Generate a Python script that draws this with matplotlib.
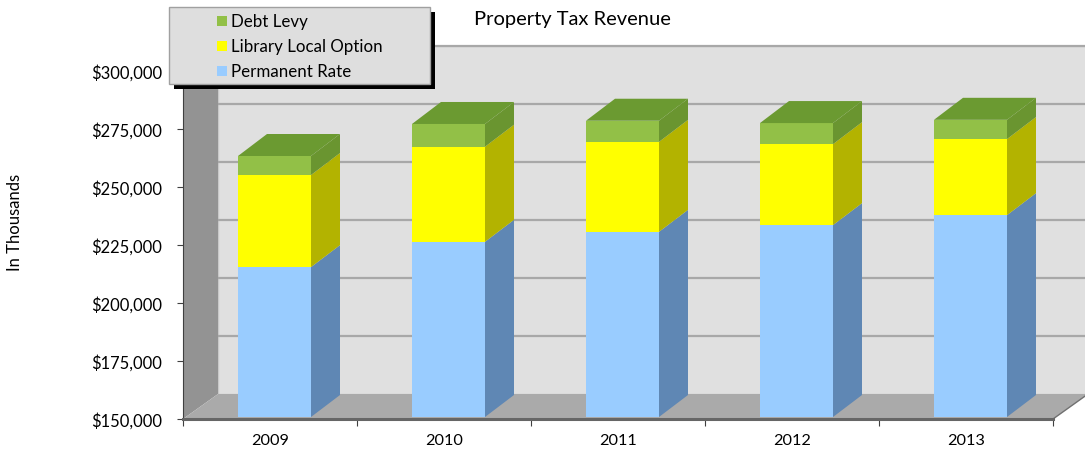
import matplotlib
matplotlib.use("Agg")
import matplotlib.pyplot as plt
from matplotlib.patches import Polygon, Rectangle
from matplotlib.ticker import FuncFormatter, FixedLocator

plt.rcParams['font.family'] = ['Lato', 'DejaVu Sans']

# ---- data ----
years = ['2009', '2010', '2011', '2012', '2013']
permanent_rate = [214600, 225500, 229800, 232700, 237000]
library_local_option = [39700, 41000, 38800, 34900, 32800]
debt_levy = [8200, 9800, 9100, 9100, 8300]
series_names = ['Permanent Rate', 'Library Local Option', 'Debt Levy']
y_ticks = [150000, 175000, 200000, 225000, 250000, 275000, 300000]
title = 'Property Tax Revenue'
y_label = 'In Thousands'

# ---- styles ----
front_cols = ['#99ccff', '#ffff00', '#92c047']
side_cols = ['#5f87b4', '#b3b300', '#6a9530']
top_cols = ['#8fb8e6', '#d9d900', '#6b9a31']

W, H = 1085, 456
fig = plt.figure(figsize=(W / 100, H / 100), dpi=100)
ax = fig.add_axes([0, 0, 1, 1])

# pixel geometry of the plot (front plane)
PX_L, PX_B = 183.0, 420.0
PX_CAT = 174.0            # pixels per category
PX_K = 2.32               # pixels per 1000
ymin = 150000


def X(px):
    return -0.5 + (px - PX_L) / PX_CAT


def Y(py):
    return ymin + (PX_B - py) / PX_K * 1000


ax.set_xlim(X(0), X(W))
ax.set_ylim(Y(H), Y(0))
ax.set_facecolor('none')

# depth offsets (data units)
FDX, FDY = 35 / PX_CAT, 25 / PX_K * 1000        # floor / wall depth
B0X, B0Y = 4.5 / PX_CAT, 2 / PX_K * 1000        # bar front offset
BDX, BDY = 29 / PX_CAT, 22 / PX_K * 1000        # bar depth
BW = 73 / PX_CAT
n = len(years)
x_lo, x_hi = -0.5, n - 0.5
y_top = y_ticks[-1]

# back wall
ax.add_patch(Polygon([(x_lo + FDX, ymin + FDY), (x_hi + FDX, ymin + FDY),
                      (x_hi + FDX, y_top + FDY), (x_lo + FDX, y_top + FDY)],
                     closed=True, facecolor='#e0e0e0', edgecolor='#c8c8c8', lw=1, zorder=1))
for t in y_ticks[1:]:
    ax.plot([x_lo + FDX, x_hi + FDX], [t + FDY, t + FDY], color='#a8a8a8', lw=1.6, zorder=2,
            solid_capstyle='butt')
# left wall
ax.add_patch(Polygon([(x_lo, ymin), (x_lo, y_top), (x_lo + FDX, y_top + FDY), (x_lo + FDX, ymin + FDY)],
                     closed=True, facecolor='#939393', edgecolor='none', zorder=2))
# floor
ax.add_patch(Polygon([(x_lo, ymin), (x_hi, ymin), (x_hi + FDX, ymin + FDY), (x_lo + FDX, ymin + FDY)],
                     closed=True, facecolor='#aaaaaa', edgecolor='none', zorder=2))
ax.plot([x_hi, x_hi + FDX], [ymin, ymin + FDY], color='#707070', lw=1, zorder=3)

# bars
stacks = [permanent_rate, library_local_option, debt_levy]
for i in range(n):
    xl = i - BW / 2 + B0X
    xr = xl + BW
    base = ymin
    for s, vals in enumerate(stacks):
        if s == 0:
            y0 = ymin + B0Y
            y1 = vals[i] + B0Y
        else:
            y0 = base
            y1 = base + vals[i]
        base = y1
        ax.add_patch(Polygon([(xr, y0), (xr, y1), (xr + BDX, y1 + BDY), (xr + BDX, y0 + BDY)],
                             closed=True, facecolor=side_cols[s], edgecolor='none', zorder=4))
        ax.add_patch(Rectangle((xl, y0), BW, y1 - y0, facecolor=front_cols[s], edgecolor='none', zorder=5))
        if s == len(stacks) - 1:
            ax.add_patch(Polygon([(xl, y1), (xr, y1), (xr + BDX, y1 + BDY), (xl + BDX, y1 + BDY)],
                                 closed=True, facecolor=top_cols[s], edgecolor='none', zorder=5))

# axes / spines
for sp in ['top', 'right']:
    ax.spines[sp].set_visible(False)
ax.spines['left'].set_position(('data', x_lo))
ax.spines['left'].set_bounds(ymin, y_top)
ax.spines['left'].set_color('#404040')
ax.spines['left'].set_linewidth(0.8)
ax.spines['left'].set_zorder(6)
ax.spines['bottom'].set_position(('data', ymin))
ax.spines['bottom'].set_bounds(x_lo, x_hi)
ax.spines['bottom'].set_color('#666666')
ax.spines['bottom'].set_linewidth(2.2)
ax.spines['bottom'].set_zorder(6)

ax.yaxis.set_major_locator(FixedLocator(y_ticks))
ax.yaxis.set_major_formatter(FuncFormatter(lambda v, p: '${:,.0f}'.format(v)))
ax.tick_params(axis='y', length=4, width=0.8, color='#404040', pad=11, labelsize=11.9, labelcolor='black')

ax.set_xticks(range(n))
ax.set_xticklabels(years)
ax.set_xticks([k - 0.5 for k in range(n + 1)], minor=True)
ax.tick_params(axis='x', which='major', length=0, pad=10, labelsize=11.7, labelcolor='black')
ax.tick_params(axis='x', which='minor', length=5, width=0.8, color='#404040')

# title and y label
fig.text(572 / W, 1 - 20 / H, title, ha='center', va='center', fontsize=14.5, color='black')
fig.text(15 / W, 1 - 222 / H, y_label, ha='center', va='center', rotation=90, fontsize=12, color='black')

# legend (manual, with black shadow)
def fr(px, py):
    return px / W, 1 - py / H

lx0, ly0, lx1, ly1 = 169, 8, 430, 85
sx, sy = fr(lx0 + 5, ly1 + 5)
fig.patches.append(Rectangle((sx, sy), (lx1 - lx0) / W, (ly1 - ly0) / H, transform=fig.transFigure,
                             facecolor='black', edgecolor='none', zorder=10))
bx, by = fr(lx0, ly1)
fig.patches.append(Rectangle((bx, by), (lx1 - lx0) / W, (ly1 - ly0) / H, transform=fig.transFigure,
                             facecolor='#dedede', edgecolor='#a0a0a0', lw=1, zorder=11))
legend_order = [2, 1, 0]
for row, s in enumerate(legend_order):
    cy = 22 + row * 25
    qx, qy = fr(217, cy + 5)
    fig.patches.append(Rectangle((qx, qy), 10 / W, 10 / H, transform=fig.transFigure,
                                 facecolor=front_cols[s], edgecolor='none', zorder=12))
    tx, ty = fr(231, cy)
    fig.text(tx, ty, series_names[s], ha='left', va='center', fontsize=12.2, color='black', zorder=13)

fig.savefig('out.png', dpi=100)
